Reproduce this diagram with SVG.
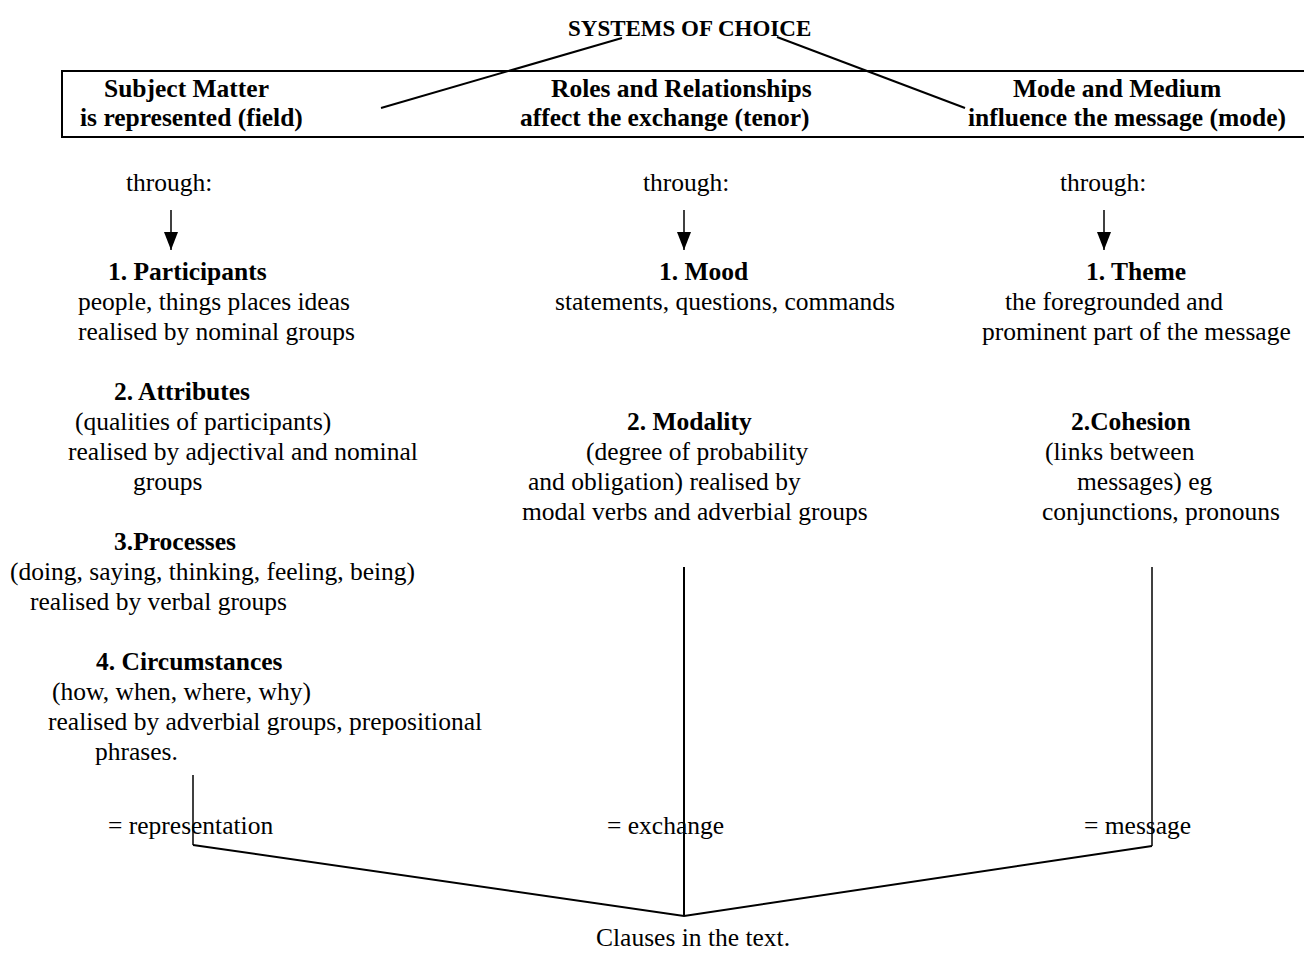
<svg xmlns="http://www.w3.org/2000/svg" width="1304" height="969" viewBox="0 0 1304 969">
<defs>
<style>
text{font-family:'Liberation Serif',Tinos,'Times New Roman',Times,serif;font-size:25.5px;fill:#000}
.b{font-weight:bold}
.t{font-size:23px;font-weight:bold}
.ln{stroke:#000;stroke-width:2;fill:none}
.thin{stroke:#000;stroke-width:1.5;fill:none}
</style>
<marker id="ah" markerWidth="18" markerHeight="14" refX="18" refY="7" orient="auto" markerUnits="userSpaceOnUse" viewBox="0 0 18 14">
<path d="M0,0 L18,7 L0,14 Z" fill="#000"/>
</marker>
</defs>
<rect width="1304" height="969" fill="#fff"/>

<g id="title"><text class="t" x="568" y="36">SYSTEMS OF CHOICE</text></g>

<g id="header">
<rect x="62" y="71" width="1260" height="66" class="ln"/>
</g>
<g id="field-head"><text class="b" x="104" y="97">Subject Matter</text><text class="b" x="80" y="126">is represented (field)</text></g>
<g id="tenor-head"><text class="b" x="551" y="97">Roles and Relationships</text><text class="b" x="520" y="126">affect the exchange (tenor)</text></g>
<g id="mode-head"><text class="b" x="1013" y="97">Mode and Medium</text><text class="b" x="968" y="126">influence the message (mode)</text></g>

<g id="through"><text x="126" y="191">through:</text><text x="643" y="191">through:</text><text x="1060" y="191">through:</text></g>

<g id="field">
<text class="b" x="108" y="280">1. Participants</text>
<text x="78" y="310">people, things places ideas</text>
<text x="78" y="340">realised by nominal groups</text>
<text class="b" x="114" y="400">2. Attributes</text>
<text x="75" y="430">(qualities of participants)</text>
<text x="68" y="460">realised by adjectival and nominal</text>
<text x="133" y="490">groups</text>
<text class="b" x="114" y="550">3.Processes</text>
<text x="10" y="580">(doing, saying, thinking, feeling, being)</text>
<text x="30" y="610">realised by verbal groups</text>
<text class="b" x="96" y="670">4. Circumstances</text>
<text x="52" y="700">(how, when, where, why)</text>
<text x="48" y="730">realised by adverbial groups, prepositional</text>
<text x="95" y="760">phrases.</text>
</g>

<g id="tenor">
<text class="b" x="659" y="280">1. Mood</text>
<text x="555" y="310">statements, questions, commands</text>
<text class="b" x="627" y="430">2. Modality</text>
<text x="586" y="460">(degree of probability</text>
<text x="528" y="490">and obligation) realised by</text>
<text x="522" y="520">modal verbs and adverbial groups</text>
</g>

<g id="mode">
<text class="b" x="1086" y="280">1. Theme</text>
<text x="1005" y="310">the foregrounded and</text>
<text x="982" y="340">prominent part of the message</text>
<text class="b" x="1071" y="430">2.Cohesion</text>
<text x="1045" y="460">(links between</text>
<text x="1077" y="490">messages) eg</text>
<text x="1042" y="520">conjunctions, pronouns</text>
</g>

<g id="results">
<text x="108" y="834">= representation</text>
<text x="607" y="834">= exchange</text>
<text x="1084" y="834">= message</text>
</g>

<g id="clauses"><text x="596" y="946">Clauses in the text.</text></g>

<g id="connectors">
<line class="ln" x1="381" y1="108" x2="622" y2="38"/>
<line class="ln" x1="777" y1="37" x2="965" y2="108"/>
<line class="thin" x1="171" y1="210" x2="171" y2="250" marker-end="url(#ah)"/>
<line class="thin" x1="684" y1="210" x2="684" y2="250" marker-end="url(#ah)"/>
<line class="thin" x1="1104" y1="210" x2="1104" y2="250" marker-end="url(#ah)"/>
<line class="thin" x1="193" y1="775" x2="193" y2="845"/>
<line class="ln" x1="684" y1="567" x2="684" y2="916"/>
<line class="thin" x1="1152" y1="567" x2="1152" y2="846"/>
<polyline class="ln" points="193,845 684,916 1152,846"/>
</g>
</svg>
